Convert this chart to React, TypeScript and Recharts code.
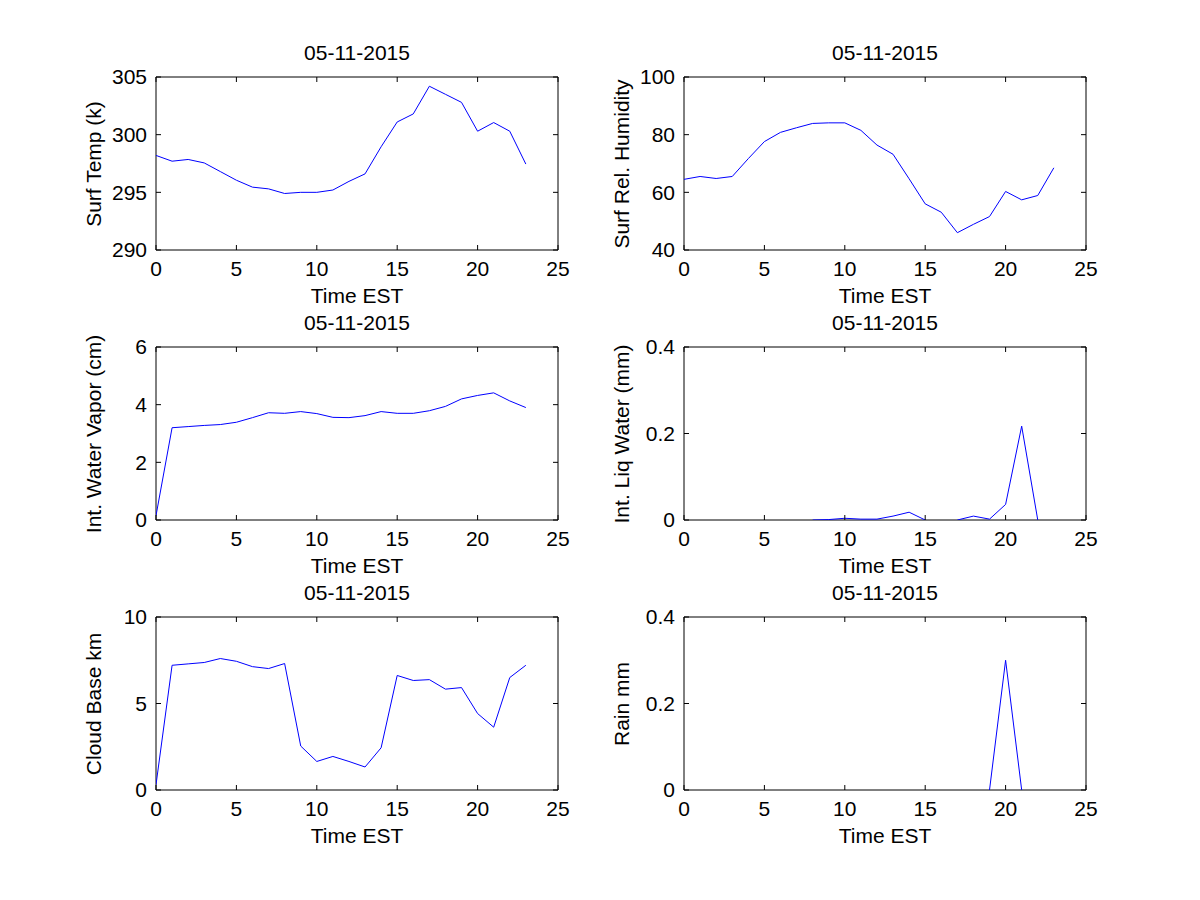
import React from "react";
import { LineChart, Line, XAxis, YAxis, ReferenceArea } from "recharts";

// hourly readings, 05-11-2015
const hours = [0, 1, 2, 3, 4, 5, 6, 7, 8, 9, 10, 11, 12, 13, 14, 15, 16, 17, 18, 19, 20, 21, 22, 23];
const xTicks = [0, 5, 10, 15, 20, 25];

const surfTemp = [
  298.2, 297.7, 297.85, 297.55, 296.8, 296.05, 295.45, 295.3, 294.9, 295.0, 295.0, 295.2,
  295.95, 296.6, 298.95, 301.1, 301.8, 304.2, 303.5, 302.8, 300.3, 301.05, 300.3, 297.45,
];
const relHumidity = [
  64.5, 65.5, 64.8, 65.5, 71.7, 77.6, 80.8, 82.4, 83.9, 84.1, 84.1, 81.5,
  76.4, 73.2, 64.7, 56.0, 53.1, 46.0, 48.9, 51.6, 60.3, 57.4, 58.9, 68.5,
];
const waterVapor = [
  0.15, 3.2, 3.24, 3.28, 3.31, 3.39, 3.55, 3.72, 3.7, 3.76, 3.69, 3.56,
  3.55, 3.62, 3.76, 3.7, 3.7, 3.79, 3.94, 4.2, 4.32, 4.41, 4.13, 3.9,
];
const liqWater: (number | null)[] = [
  null, null, null, null, null, null, null, null, 0, 0.001, 0.004, 0.002,
  0.002, 0.009, 0.018, 0, null, 0, 0.009, 0.002, 0.036, 0.217, 0, null,
];
const cloudBase = [
  0.3, 7.21, 7.29, 7.37, 7.6, 7.44, 7.13, 7.02, 7.31, 2.54, 1.65, 1.94,
  1.65, 1.33, 2.44, 6.62, 6.33, 6.38, 5.83, 5.92, 4.42, 3.63, 6.5, 7.21,
];
const rain: (number | null)[] = [
  null, null, null, null, null, null, null, null, null, null, null, null,
  null, null, null, null, null, null, null, 0, 0.3, 0, null, null,
];

const TITLE = "05-11-2015";
const XLABEL = "Time EST";

const FONT = '"Liberation Sans", Arial, Helvetica, sans-serif';
const FS = 21;

// plot box geometry inside each chart
const PW = 402;
const PH = 173;
const ML = 80; // margin.left + yaxis width
const MT = 40;

function BottomTick({ x, y, payload }: any) {
  return (
    <g>
      <line x1={x} x2={x} y1={y} y2={y - 5} stroke="#000" />
      <line x1={x} x2={x} y1={y - PH} y2={y - PH + 5} stroke="#000" />
      <text x={x} y={y + 19} dy="0.35em" textAnchor="middle" fontSize={FS} fontFamily={FONT} fill="#000">
        {payload.value}
      </text>
    </g>
  );
}

function LeftTick({ x, y, payload }: any) {
  return (
    <g>
      <line x1={x} x2={x + 5} y1={y} y2={y} stroke="#000" />
      <line x1={x + PW} x2={x + PW - 5} y1={y} y2={y} stroke="#000" />
      <text x={x - 9} y={y} dy="0.35em" textAnchor="end" fontSize={FS} fontFamily={FONT} fill="#000">
        {payload.value}
      </text>
    </g>
  );
}

type PanelProps = {
  left: number; // plot box left, page px
  top: number; // plot box top, page px
  values: (number | null)[];
  domain: [number, number];
  yTicks: number[];
  ylabel: string;
};

function Panel({ left, top, values, domain, yTicks, ylabel }: PanelProps) {
  const data = hours.map((h, i) => ({ h, v: values[i] }));
  const text: React.CSSProperties = {
    position: "absolute",
    height: 24,
    lineHeight: "24px",
    fontSize: FS,
    textAlign: "center",
    whiteSpace: "nowrap",
    color: "#000",
  };
  return (
    <div style={{ position: "absolute", left: left - ML, top: top - MT, width: 502, height: 263 }}>
      <LineChart width={502} height={263} data={data} margin={{ top: MT, right: 20, bottom: 0, left: 10 }}>
        <XAxis
          dataKey="h"
          type="number"
          domain={[0, 25]}
          ticks={xTicks}
          height={50}
          axisLine={false}
          tickLine={false}
          tickSize={0}
          tickMargin={0}
          tick={<BottomTick />}
          allowDataOverflow
        />
        <YAxis
          type="number"
          domain={domain}
          ticks={yTicks}
          width={70}
          axisLine={false}
          tickLine={false}
          tickSize={0}
          tickMargin={0}
          tick={<LeftTick />}
          allowDataOverflow
        />
        <ReferenceArea
          x1={0}
          x2={25}
          y1={domain[0]}
          y2={domain[1]}
          fill="none"
          fillOpacity={0}
          stroke="#000"
          strokeWidth={1}
          ifOverflow="visible"
        />
        <Line
          type="linear"
          dataKey="v"
          stroke="#0000ff"
          strokeWidth={1}
          dot={false}
          connectNulls={false}
          isAnimationActive={false}
        />
      </LineChart>
      <div style={{ ...text, left: ML, width: PW, top: MT - 24 - 12 }}>{TITLE}</div>
      <div style={{ ...text, left: ML, width: PW, top: MT + PH + 45.5 - 12 }}>{XLABEL}</div>
      <div
        style={{
          ...text,
          left: ML - 62 - 110,
          width: 220,
          top: MT + PH / 2 - 12,
          transform: "rotate(-90deg)",
        }}
      >
        {ylabel}
      </div>
    </div>
  );
}

export default function App() {
  return (
    <div
      style={{
        position: "absolute",
        left: 0,
        top: 0,
        width: 1200,
        height: 900,
        background: "#fff",
        fontFamily: FONT,
        overflow: "hidden",
      }}
    >
      <Panel left={156} top={77} values={surfTemp} domain={[290, 305]} yTicks={[290, 295, 300, 305]} ylabel="Surf Temp (k)" />
      <Panel left={684} top={77} values={relHumidity} domain={[40, 100]} yTicks={[40, 60, 80, 100]} ylabel="Surf Rel. Humidity" />
      <Panel left={156} top={347} values={waterVapor} domain={[0, 6]} yTicks={[0, 2, 4, 6]} ylabel="Int. Water Vapor (cm)" />
      <Panel left={684} top={347} values={liqWater} domain={[0, 0.4]} yTicks={[0, 0.2, 0.4]} ylabel="Int. Liq Water (mm)" />
      <Panel left={156} top={617} values={cloudBase} domain={[0, 10]} yTicks={[0, 5, 10]} ylabel="Cloud Base km" />
      <Panel left={684} top={617} values={rain} domain={[0, 0.4]} yTicks={[0, 0.2, 0.4]} ylabel="Rain mm" />
    </div>
  );
}
